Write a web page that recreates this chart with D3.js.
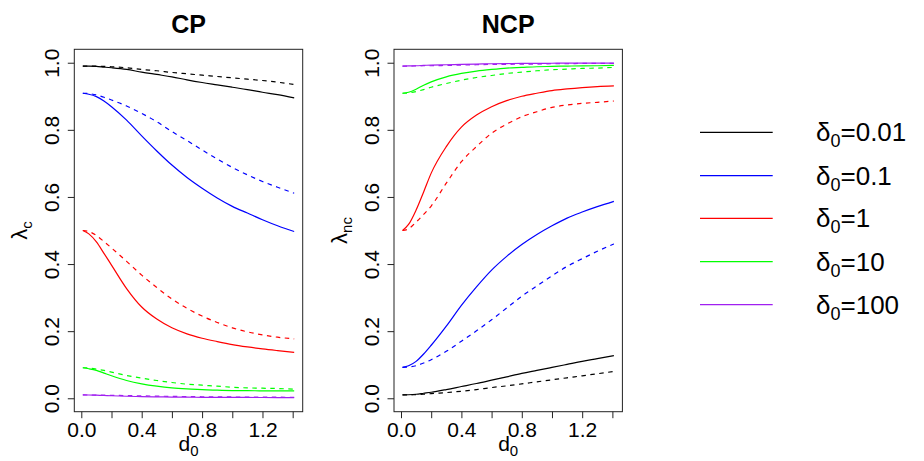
<!DOCTYPE html>
<html>
<head>
<meta charset="utf-8">
<script src="https://cdn.jsdelivr.net/npm/d3@7"></script>
<style>
  html, body { margin: 0; padding: 0; background: #fff; }
  svg { display: block; font-family: "Liberation Sans", Arial, Helvetica, sans-serif; }
</style>
</head>
<body>
<svg id="chart" width="924" height="461"></svg>
<script>
// grid of d0 values at which every curve is sampled
const d0 = [0.01, 0.05, 0.1, 0.15, 0.2, 0.3, 0.4, 0.5, 0.6, 0.7, 0.8, 0.9, 1.0, 1.1, 1.2, 1.3, 1.41];

const deltaLabels = ["0.01", "0.1", "1", "10", "100"];
const seriesColors = ["#000000", "#0000FF", "#FF0000", "#00FF00", "#A020F0"];

// centered parameterisation, lambda_c (solid and dashed variants)
const cpSolid001 = [0.990, 0.990, 0.989, 0.987, 0.985, 0.980, 0.972, 0.965, 0.958, 0.949, 0.941, 0.934, 0.927, 0.920, 0.912, 0.905, 0.895];
const cpSolid01  = [0.909, 0.906, 0.899, 0.886, 0.869, 0.829, 0.782, 0.737, 0.695, 0.658, 0.626, 0.597, 0.572, 0.552, 0.532, 0.514, 0.497];
const cpSolid1   = [0.500, 0.490, 0.466, 0.432, 0.397, 0.327, 0.272, 0.236, 0.210, 0.192, 0.179, 0.169, 0.160, 0.153, 0.147, 0.142, 0.137];
const cpSolid10  = [0.091, 0.088, 0.083, 0.075, 0.067, 0.053, 0.043, 0.036, 0.031, 0.028, 0.026, 0.024, 0.023, 0.023, 0.022, 0.022, 0.022];
const cpSolid100 = [0.0099, 0.0097, 0.0092, 0.0083, 0.0075, 0.0060, 0.0050, 0.0042, 0.0036, 0.0032, 0.0029, 0.0027, 0.0025, 0.0024, 0.0023, 0.0022, 0.0021];

const cpDash001 = [0.990, 0.990, 0.990, 0.989, 0.988, 0.985, 0.980, 0.976, 0.971, 0.967, 0.963, 0.959, 0.955, 0.951, 0.947, 0.942, 0.935];
const cpDash01  = [0.909, 0.908, 0.904, 0.897, 0.889, 0.871, 0.849, 0.824, 0.795, 0.768, 0.740, 0.713, 0.688, 0.666, 0.646, 0.629, 0.611];
const cpDash1   = [0.500, 0.497, 0.485, 0.467, 0.448, 0.408, 0.367, 0.330, 0.296, 0.268, 0.245, 0.226, 0.210, 0.198, 0.189, 0.182, 0.177];
const cpDash10  = [0.091, 0.090, 0.087, 0.083, 0.078, 0.068, 0.060, 0.053, 0.047, 0.042, 0.039, 0.036, 0.033, 0.031, 0.030, 0.029, 0.027];
const cpDash100 = [0.0099, 0.0098, 0.0095, 0.0092, 0.0088, 0.0080, 0.0072, 0.0064, 0.0057, 0.0051, 0.0046, 0.0042, 0.0039, 0.0036, 0.0034, 0.0032, 0.0030];

// non-centered parameterisation, lambda_nc
const ncpSolid001 = [0.0099, 0.0105, 0.012, 0.015, 0.018, 0.026, 0.035, 0.044, 0.054, 0.064, 0.074, 0.083, 0.092, 0.101, 0.110, 0.118, 0.127];
const ncpSolid01  = [0.092, 0.097, 0.110, 0.132, 0.158, 0.215, 0.277, 0.332, 0.382, 0.423, 0.458, 0.488, 0.514, 0.537, 0.555, 0.571, 0.587];
const ncpSolid1   = [0.500, 0.518, 0.561, 0.615, 0.671, 0.750, 0.808, 0.844, 0.869, 0.887, 0.900, 0.909, 0.917, 0.922, 0.926, 0.929, 0.931];
const ncpSolid10  = [0.909, 0.912, 0.921, 0.933, 0.943, 0.958, 0.968, 0.975, 0.980, 0.984, 0.986, 0.988, 0.989, 0.990, 0.9905, 0.991, 0.992];
const ncpSolid100 = [0.990, 0.9905, 0.991, 0.992, 0.993, 0.994, 0.995, 0.996, 0.997, 0.9975, 0.998, 0.998, 0.9985, 0.999, 0.999, 0.999, 0.999];

const ncpDash001 = [0.0099, 0.010, 0.011, 0.012, 0.014, 0.017, 0.021, 0.026, 0.032, 0.037, 0.043, 0.049, 0.055, 0.061, 0.067, 0.073, 0.080];
const ncpDash01  = [0.092, 0.093, 0.097, 0.105, 0.115, 0.140, 0.170, 0.201, 0.234, 0.269, 0.304, 0.335, 0.365, 0.393, 0.416, 0.438, 0.460];
const ncpDash1   = [0.500, 0.505, 0.525, 0.548, 0.573, 0.641, 0.705, 0.750, 0.790, 0.817, 0.839, 0.854, 0.867, 0.874, 0.879, 0.882, 0.886];
const ncpDash10  = [0.909, 0.910, 0.914, 0.920, 0.927, 0.938, 0.948, 0.956, 0.962, 0.968, 0.972, 0.976, 0.979, 0.981, 0.983, 0.984, 0.986];
const ncpDash100 = [0.990, 0.990, 0.9905, 0.991, 0.991, 0.992, 0.993, 0.994, 0.995, 0.995, 0.996, 0.996, 0.997, 0.997, 0.998, 0.998, 0.998];

const xTicks = [0, 0.2, 0.4, 0.6, 0.8, 1.0, 1.2, 1.4];
const xTickLabels = ["0.0", "", "0.4", "", "0.8", "", "1.2", ""];
const yTicks = [0, 0.2, 0.4, 0.6, 0.8, 1.0];
const yTickLabels = ["0.0", "0.2", "0.4", "0.6", "0.8", "1.0"];

const panels = [
  { title: "CP", ylab: "c", left: 74.3, solid: [cpSolid001, cpSolid01, cpSolid1, cpSolid10, cpSolid100],
    dashed: [cpDash001, cpDash01, cpDash1, cpDash10, cpDash100] },
  { title: "NCP", ylab: "nc", left: 394, solid: [ncpSolid001, ncpSolid01, ncpSolid1, ncpSolid10, ncpSolid100],
    dashed: [ncpDash001, ncpDash01, ncpDash1, ncpDash10, ncpDash100] }
];

const svg = d3.select("#chart");
const plotW = 228.4, plotTop = 49.3, plotBottom = 411.7;

panels.forEach(p => {
  const x = d3.scaleLinear().domain([-0.0464, 1.4664]).range([p.left, p.left + plotW]);
  const y = d3.scaleLinear().domain([-0.04, 1.04]).range([plotBottom, plotTop]);
  const line = d3.line().x((d, i) => x(d0[i])).y(d => y(d)).curve(d3.curveMonotoneX);

  const g = svg.append("g");

  // curves: solid first, then the dashed counterparts
  p.solid.forEach((vals, k) => {
    g.append("path").attr("d", line(vals)).attr("fill", "none")
      .attr("stroke", seriesColors[k]).attr("stroke-width", 1.2);
  });
  p.dashed.forEach((vals, k) => {
    g.append("path").attr("d", line(vals)).attr("fill", "none")
      .attr("stroke", seriesColors[k]).attr("stroke-width", 1.2)
      .attr("stroke-dasharray", "4.5,4.5");
  });

  // frame
  g.append("rect").attr("x", p.left).attr("y", plotTop).attr("width", plotW).attr("height", plotBottom - plotTop)
    .attr("fill", "none").attr("stroke", "#222").attr("stroke-width", 1);

  // bottom axis
  const xa = g.append("g").attr("transform", `translate(0,${plotBottom})`)
    .call(d3.axisBottom(x).tickValues(xTicks).tickSize(6.5).tickSizeOuter(0)
      .tickFormat((d, i) => xTickLabels[i]));
  xa.select(".domain").remove();
  xa.selectAll("line").attr("stroke", "#222");
  xa.selectAll("text").attr("y", 25).attr("dy", 0).attr("fill", "#000")
    .attr("font-size", 21).attr("font-family", "Liberation Sans, Arial, sans-serif");

  // left axis with rotated labels
  const ya = g.append("g").attr("transform", `translate(${p.left},0)`)
    .call(d3.axisLeft(y).tickValues(yTicks).tickSize(6.5).tickSizeOuter(0)
      .tickFormat((d, i) => yTickLabels[i]));
  ya.select(".domain").remove();
  ya.selectAll("line").attr("stroke", "#222");
  ya.selectAll("text").attr("x", 0).attr("dy", 0).attr("fill", "#000")
    .attr("transform", "translate(-15,0) rotate(-90)")
    .attr("text-anchor", "middle")
    .attr("font-size", 21).attr("font-family", "Liberation Sans, Arial, sans-serif");

  // title
  const cx = p.left + plotW / 2;
  g.append("text").attr("x", cx).attr("y", 33).attr("text-anchor", "middle")
    .attr("font-size", 25).attr("font-weight", "bold").text(p.title);

  // x label: d0
  const xl = g.append("text").attr("x", cx).attr("y", 451).attr("text-anchor", "middle").attr("font-size", 21);
  xl.append("tspan").text("d");
  xl.append("tspan").attr("font-size", 15).attr("dy", 5).text("0");

  // y label: lambda with subscript
  const yl = g.append("text").attr("transform", `translate(${p.left - 47},${(plotTop + plotBottom) / 2}) rotate(-90)`)
    .attr("text-anchor", "middle").attr("font-size", 22);
  yl.append("tspan").text("λ");
  yl.append("tspan").attr("font-size", 15).attr("dy", 5).text(p.ylab);
});

// legend
const legendLineY = [132.3, 175.7, 218.3, 261.7, 304.7];
const legend = svg.append("g");
deltaLabels.forEach((lab, k) => {
  const ly = legendLineY[k];
  legend.append("line").attr("x1", 700).attr("x2", 772.7).attr("y1", ly).attr("y2", ly)
    .attr("stroke", seriesColors[k]).attr("stroke-width", 1.3);
  const t = legend.append("text").attr("x", 816).attr("y", ly + 9).attr("font-size", 26);
  t.append("tspan").text("δ");
  t.append("tspan").attr("font-size", 18).attr("dy", 6).text("0");
  t.append("tspan").attr("dy", -6).text("=" + lab);
});
</script>
</body>
</html>
